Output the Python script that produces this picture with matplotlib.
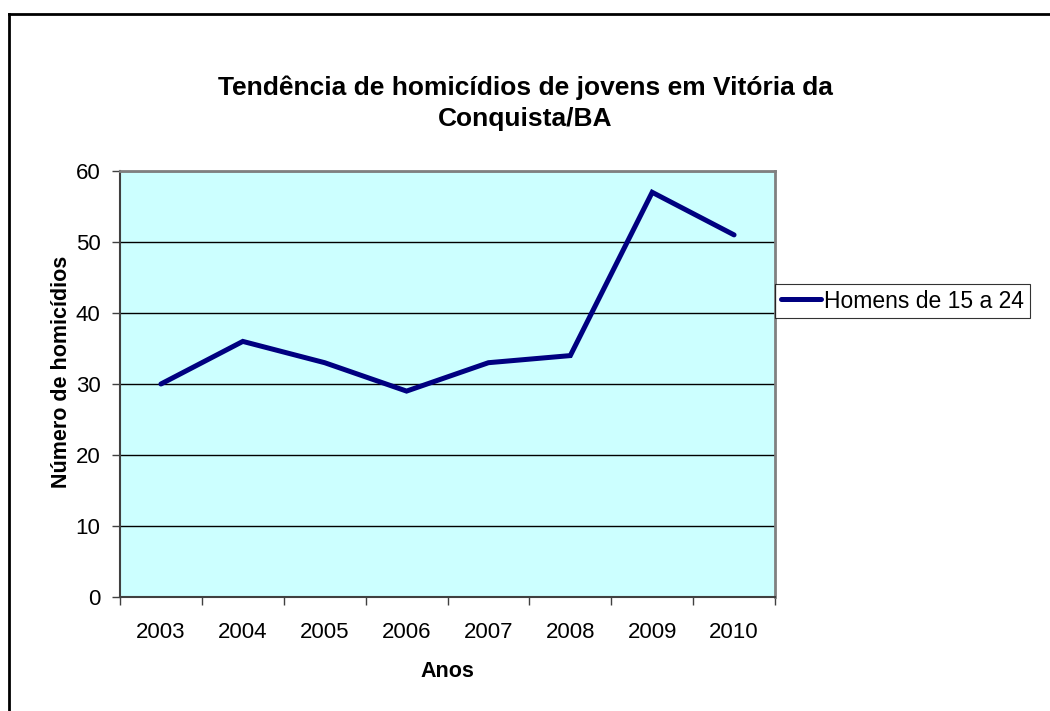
import numpy as np
import matplotlib
matplotlib.use("Agg")
import matplotlib.pyplot as plt
from matplotlib.lines import Line2D

plt.rcParams['font.family'] = ['Liberation Sans', 'DejaVu Sans']

# data
anos = ['2003', '2004', '2005', '2006', '2007', '2008', '2009', '2010']
homicidios = [30, 36, 33, 29, 33, 34, 57, 51]
serie_nome = 'Homens de 15 a 24'
y_ticks = [0, 10, 20, 30, 40, 50, 60]

W, H = 1050, 711
fig = plt.figure(figsize=(W / 100, H / 100), dpi=100)

# axes placed like the Excel plot area
ax = fig.add_axes([120 / W, 1 - 597 / H, (775 - 120) / W, (597 - 171) / H])
ax.set_facecolor('#CCFFFF')

x = np.arange(len(anos))
line, = ax.plot(x, homicidios, color='#000080', linewidth=3.6,
                solid_capstyle='round', solid_joinstyle='miter', zorder=3)

ax.set_xlim(-0.5, len(anos) - 0.5)
ax.set_ylim(0, 60)
ax.set_yticks(y_ticks)
ax.set_yticklabels([str(v) for v in y_ticks], fontsize=16)

# category labels in the middle, tick marks on the boundaries
ax.set_xticks(np.arange(len(anos) + 1) - 0.5)
ax.set_xticklabels([])
ax.set_xticks(x, minor=True)
ax.set_xticklabels(anos, minor=True, fontsize=16)
ax.tick_params(axis='x', which='major', length=6, width=1, color='#404040', direction='out')
ax.tick_params(axis='x', which='minor', length=0, pad=18)
ax.tick_params(axis='y', length=6, width=1, color='#404040', direction='out', pad=8)

ax.yaxis.grid(True, color='black', linewidth=1)
ax.set_axisbelow(True)

for side in ['top', 'right']:
    ax.spines[side].set_color('#808080')
    ax.spines[side].set_linewidth(2)
for side in ['left', 'bottom']:
    ax.spines[side].set_color('#404040')
    ax.spines[side].set_linewidth(1.5)

ax.set_xlabel('Anos', fontsize=15.5, fontweight='bold', labelpad=13)
ax.set_ylabel('Número de homicídios', fontsize=15.5, fontweight='bold')
ax.yaxis.set_label_coords(72 / W, 1 - 372 / H, transform=fig.transFigure)

fig.text(525 / W, 1 - 103 / H,
         'Tendência de homicídios de jovens em Vitória da\nConquista/BA',
         ha='center', va='center', fontsize=19, fontweight='bold',
         linespacing=1.35)

leg = fig.legend([line], [serie_nome], loc='center left',
                 bbox_to_anchor=(775 / W, 1 - 301 / H),
                 bbox_transform=fig.transFigure, fontsize=16.5,
                 frameon=True, fancybox=False, handlelength=1.75,
                 handletextpad=0.15, borderpad=0.25, borderaxespad=0)
leg.get_frame().set_edgecolor('black')
leg.get_frame().set_linewidth(0.8)

# outer chart border (only left and top visible in the crop)
fig.add_artist(Line2D([9 / W, 9 / W], [1 - 14 / H, 0], color='black', linewidth=2))
fig.add_artist(Line2D([9 / W, 1], [1 - 14 / H, 1 - 14 / H], color='black', linewidth=2))

fig.savefig('out.png', dpi=100)
